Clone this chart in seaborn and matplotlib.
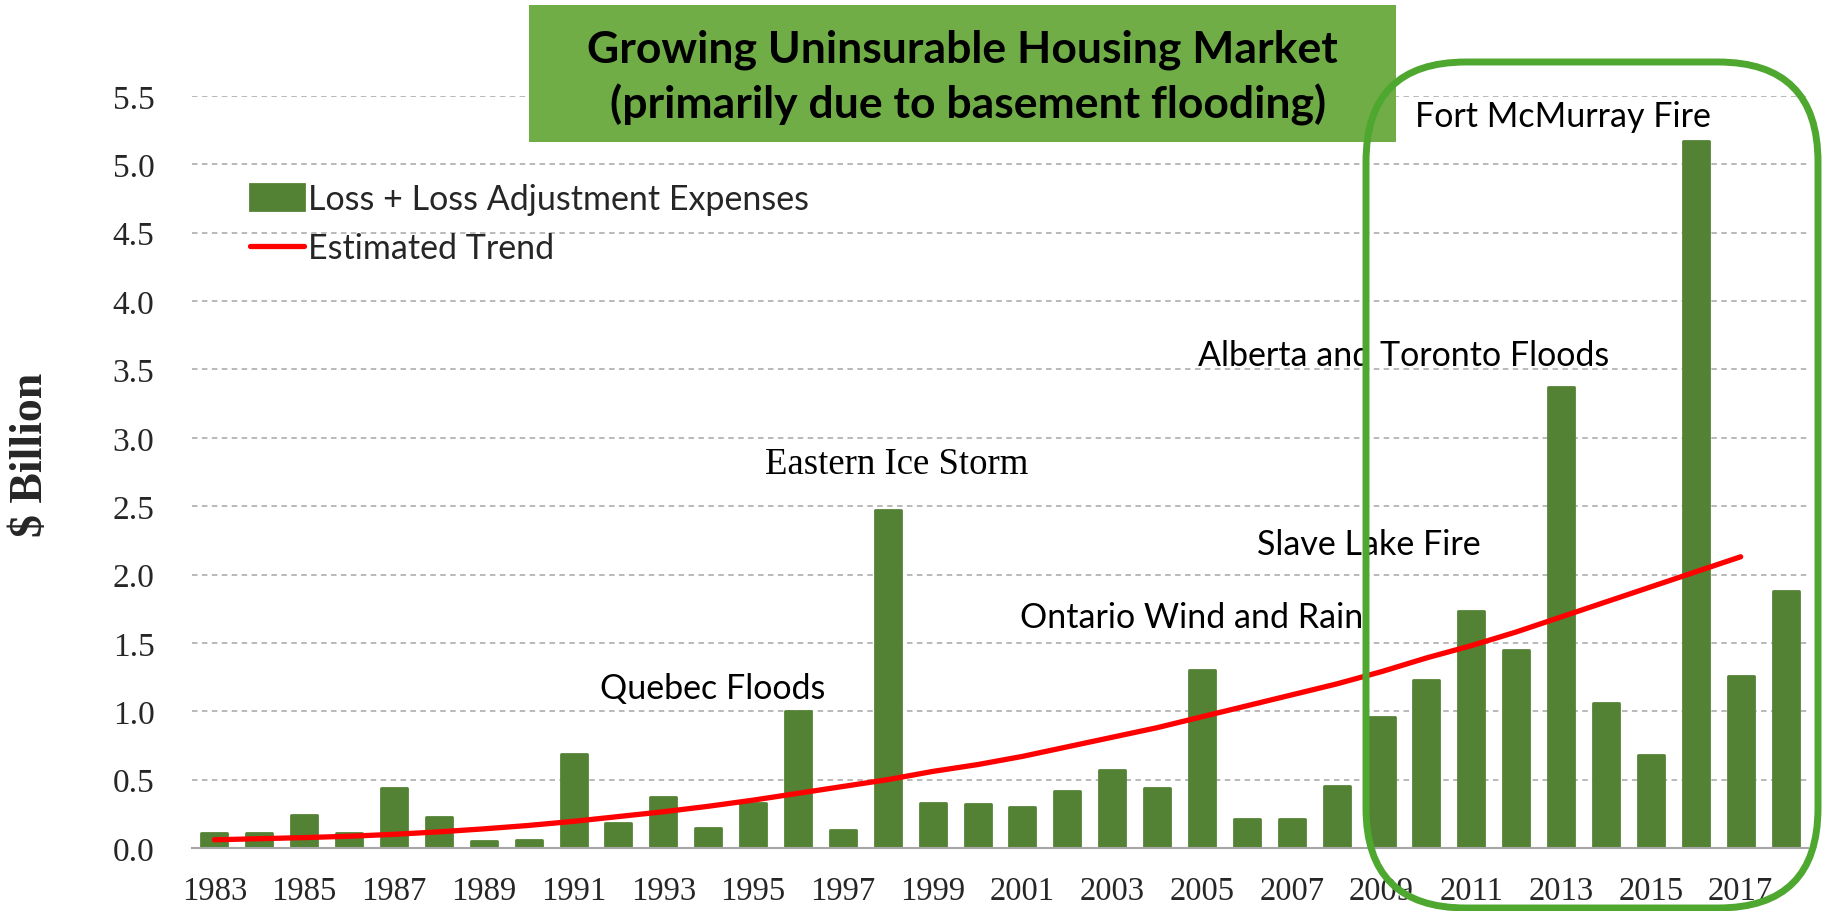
import numpy as np
import matplotlib
matplotlib.use("Agg")
import matplotlib.pyplot as plt
import seaborn as sns
from matplotlib.patches import Rectangle, FancyBboxPatch
from matplotlib.transforms import IdentityTransform

# data ($ billion)
years = [str(y) for y in range(1983, 2019)]
losses = [0.11, 0.11, 0.24, 0.11, 0.44, 0.23, 0.05, 0.055, 0.69, 0.185,
          0.37, 0.145, 0.33, 1.00, 0.135, 2.47, 0.33, 0.32, 0.30, 0.42,
          0.57, 0.44, 1.30, 0.215, 0.21, 0.455, 0.96, 1.23, 1.73, 1.45,
          3.37, 1.06, 0.68, 5.17, 1.26, 1.88]
# trend line runs 1983..2017
trend = [0.06, 0.068, 0.076, 0.086, 0.10, 0.118, 0.14, 0.165, 0.195, 0.23,
         0.265, 0.305, 0.35, 0.40, 0.45, 0.50, 0.56, 0.61, 0.67, 0.74,
         0.81, 0.88, 0.96, 1.04, 1.12, 1.20, 1.29, 1.39, 1.48, 1.58,
         1.69, 1.80, 1.91, 2.02, 2.13]
event_labels = ["Quebec Floods", "Eastern Ice Storm", "Ontario Wind and Rain",
                "Slave Lake Fire", "Alberta and Toronto Floods", "Fort McMurray Fire"]
event_xy = [(11.1, 1.10), (15.2, 2.74), (21.77, 1.62),
            (25.71, 2.15), (26.49, 3.53), (30.03, 5.28)]
title_lines = ["Growing Uninsurable Housing Market",
               "(primarily due to basement flooding)"]

BAR_GREEN = "#548235"
BOX_GREEN = "#70AD47"
RING_GREEN = "#4EA72E"
GRID = "#A6A6A6"
SANS = ["Lato", "DejaVu Sans"]
SERIF = ["Liberation Serif", "DejaVu Serif"]

sns.set_style("white")
plt.rcParams["font.family"] = SANS

W, H = 1825, 912
fig = plt.figure(figsize=(W / 100, H / 100), dpi=100)
ax = fig.add_axes([192 / W, 63 / H, (1808 - 192) / W, (849 - 97) / H])

sns.barplot(x=years, y=losses, color=BAR_GREEN, saturation=1, width=0.58,
            errorbar=None, ax=ax, label="Loss + Loss Adjustment Expenses",
            linewidth=2, edgecolor=BAR_GREEN, zorder=2)
for p in ax.patches:
    p.set_joinstyle("round")
sns.lineplot(x=np.arange(len(trend)), y=trend, color="#FF0000", linewidth=3.8,
             ax=ax, label="Estimated Trend", zorder=3)
trend_line = ax.lines[-1]

ax.set_xlim(-0.5, len(years) - 0.5)
ax.set_ylim(0, 5.5)
yt = np.arange(0, 5.51, 0.5)
ax.set_yticks(yt)
ax.set_yticklabels([f"{v:.1f}" for v in yt], fontfamily=SERIF, fontsize=24)
ax.set_xticks(range(0, len(years), 2))
ax.set_xticklabels(years[::2], fontfamily=SERIF, fontsize=23.5)
ax.set_xticks(np.arange(-0.5, len(years), 1), minor=True)
ax.tick_params(axis="x", which="major", length=0, pad=20)
ax.tick_params(axis="x", which="minor", length=8, width=1, color=GRID)
ax.tick_params(axis="y", length=0, pad=27)
ax.set_xlabel("")
ax.set_ylabel("")

ax.yaxis.grid(True, color=GRID, linestyle=(0, (3.6, 2.9)), linewidth=1.1, zorder=0)
ax.xaxis.grid(False)
ax.set_axisbelow(True)
for s in ["left", "top", "right"]:
    ax.spines[s].set_visible(False)
ax.spines["bottom"].set_color(GRID)
ax.spines["bottom"].set_linewidth(1.5)

handles = [ax.containers[0], trend_line]
ax.legend(handles, ["Loss + Loss Adjustment Expenses", "Estimated Trend"],
          loc="upper left", bbox_to_anchor=(250 / W, 1 - 184 / H),
          bbox_transform=fig.transFigure, frameon=False, fontsize=24.5,
          handlelength=1.6, handleheight=0.8, handletextpad=0.1,
          labelspacing=0.5, borderpad=0, borderaxespad=0)

for lbl, (x, y) in zip(event_labels, event_xy):
    serif = lbl == "Eastern Ice Storm"
    ax.text(x, y, lbl, ha="center", va="baseline",
            fontsize=26.5 if serif else 24.5,
            fontfamily=SERIF if serif else SANS, color="black", zorder=4)

# title box
fig.add_artist(Rectangle((529 / W, 769 / H), 867 / W, 137 / H,
                         transform=fig.transFigure, facecolor=BOX_GREEN,
                         edgecolor="none", zorder=5))
fig.text(962 / W, 1 - 62 / H, title_lines[0], ha="center", va="baseline",
         fontsize=32, fontweight="bold", color="black", zorder=6)
fig.text(968 / W, 1 - 118 / H, title_lines[1], ha="center", va="baseline",
         fontsize=32, fontweight="bold", color="black", zorder=6)

# highlight frame around recent years
fig.add_artist(FancyBboxPatch((1366, 3), 452, 846,
                              boxstyle="round,pad=0,rounding_size=100",
                              transform=IdentityTransform(), fill=False,
                              edgecolor=RING_GREEN, linewidth=5, zorder=10))

fig.text(31 / W, 1 - 455 / H, "$ Billion", rotation=90, ha="center", va="center",
         fontfamily=SERIF, fontweight="bold", fontsize=33)

fig.savefig("out.png", dpi=100)
